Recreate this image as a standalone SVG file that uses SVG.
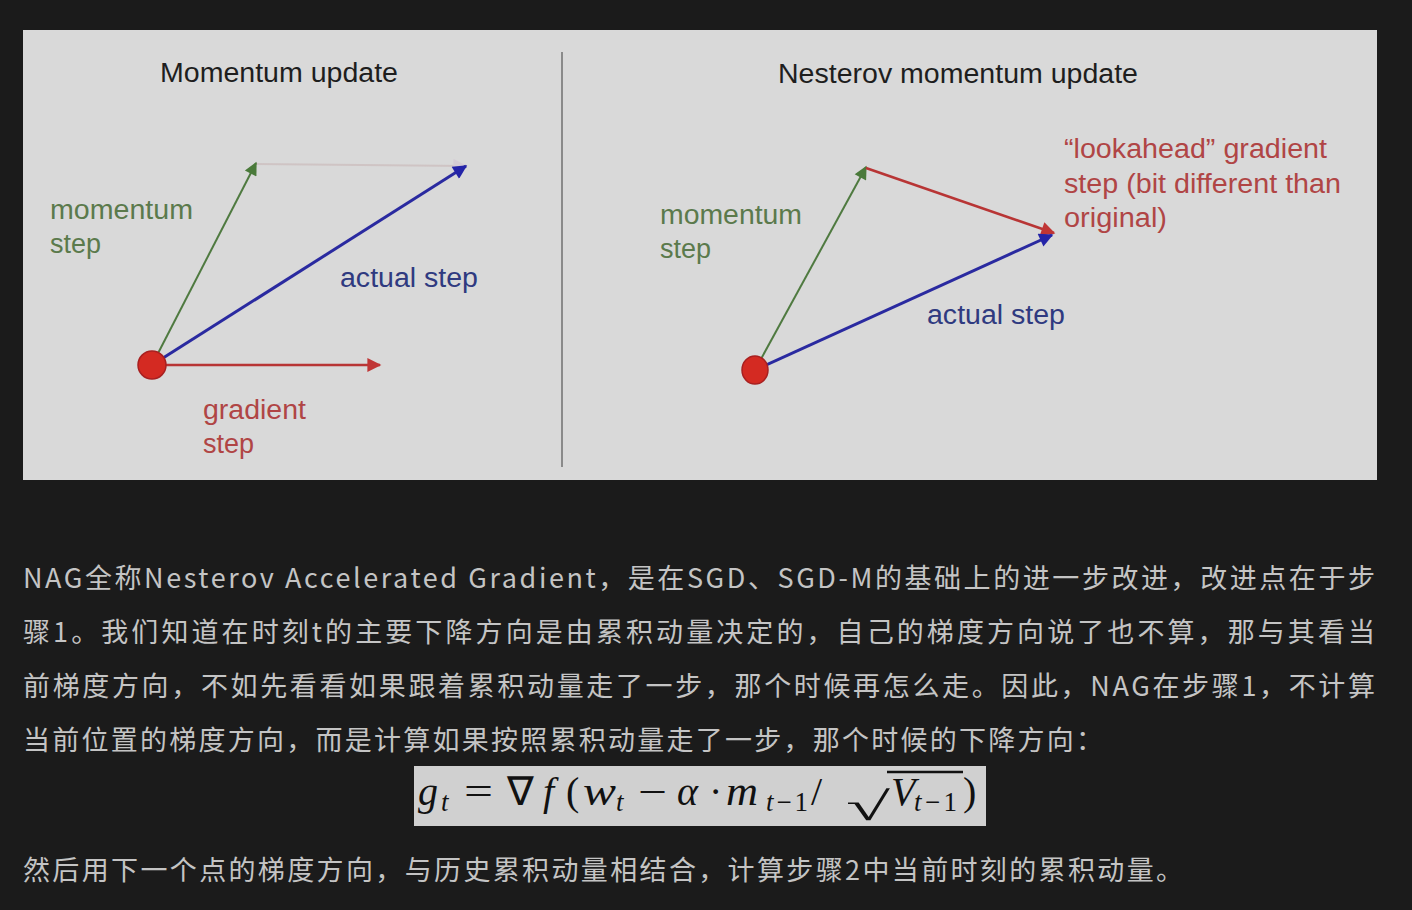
<svg xmlns="http://www.w3.org/2000/svg" width="1412" height="910" viewBox="0 0 1412 910">
<defs>
<style>
.lbl{font-family:"Liberation Sans",Arial,sans-serif;font-size:27px}
.ttl{font-family:"Liberation Sans",Arial,sans-serif;font-size:27px;fill:#1e1e1e}
.g{fill:#5b7a4c}.b{fill:#2f3a80}.r{fill:#b04545}
.zh{font-family:"Noto Sans CJK SC",sans-serif;font-size:27px;fill:#c4c4c4}
.m{font-family:"Liberation Serif","Times New Roman",serif;font-size:40px;fill:#111}
.mi{font-style:italic}
.ms{font-size:27px}
</style>
<marker id="ab" viewBox="0 0 10 10" refX="9" refY="5" markerWidth="20" markerHeight="14" markerUnits="userSpaceOnUse" orient="auto"><path d="M0,0 L10,5 L0,10 Z" fill="#2424a8"/></marker>
<marker id="ar" viewBox="0 0 10 10" refX="9" refY="5" markerWidth="20" markerHeight="14" markerUnits="userSpaceOnUse" orient="auto"><path d="M0,0 L10,5 L0,10 Z" fill="#c03535"/></marker>
<marker id="agr" viewBox="0 0 10 10" refX="9" refY="5" markerWidth="18" markerHeight="14" markerUnits="userSpaceOnUse" orient="auto"><path d="M0,0 L10,5 L0,10 Z" fill="#d4ccd4"/></marker>
<marker id="ag2" viewBox="0 0 10 10" refX="9" refY="5" markerWidth="18" markerHeight="13" markerUnits="userSpaceOnUse" orient="auto"><path d="M0,0 L10,5 L0,10 Z" fill="#4a7a3a"/></marker>
</defs>
<rect width="1412" height="910" fill="#1b1b1b"/>
<rect x="23" y="30" width="1354" height="450" fill="#d9d9d9"/>
<line x1="562" y1="52" x2="562" y2="467" stroke="#8a8a8a" stroke-width="2"/>

<g id="connectors" fill="none">
  <line x1="255" y1="164" x2="466" y2="166" stroke="#cfc4c4" stroke-width="2" marker-end="url(#agr)"/>
  <line x1="152" y1="365" x2="256" y2="163" stroke="#4f7a40" stroke-width="2" marker-end="url(#ag2)"/>
  <line x1="152" y1="365" x2="466" y2="166" stroke="#2a2aa0" stroke-width="3" marker-end="url(#ab)"/>
  <line x1="152" y1="365" x2="380" y2="365" stroke="#b83535" stroke-width="2.5" marker-end="url(#ar)"/>
  <line x1="755" y1="370" x2="866" y2="167" stroke="#4f7a40" stroke-width="2" marker-end="url(#ag2)"/>
  <line x1="866" y1="168" x2="1054" y2="233" stroke="#b83535" stroke-width="2.5" marker-end="url(#ar)"/>
  <line x1="755" y1="370" x2="1052" y2="235" stroke="#2a2aa0" stroke-width="3" marker-end="url(#ab)"/>
</g>

<g id="left-panel">
  <text class="ttl" x="279" y="82" text-anchor="middle" textLength="238" lengthAdjust="spacingAndGlyphs">Momentum update</text>
  <circle cx="152" cy="365" r="14" fill="#d42a22" stroke="#a82020" stroke-width="1.5"/>
  <text class="lbl g" x="50" y="219" textLength="143" lengthAdjust="spacingAndGlyphs">momentum</text>
  <text class="lbl g" x="50" y="253">step</text>
  <text class="lbl b" x="340" y="287" textLength="138" lengthAdjust="spacingAndGlyphs">actual step</text>
  <text class="lbl r" x="203" y="419" textLength="103" lengthAdjust="spacingAndGlyphs">gradient</text>
  <text class="lbl r" x="203" y="453">step</text>
</g>

<g id="right-panel">
  <text class="ttl" x="958" y="83" text-anchor="middle" textLength="360" lengthAdjust="spacingAndGlyphs">Nesterov momentum update</text>
  <ellipse cx="755" cy="370" rx="13" ry="14" fill="#d42a22" stroke="#a82020" stroke-width="1.5"/>
  <text class="lbl g" x="660" y="224" textLength="142" lengthAdjust="spacingAndGlyphs">momentum</text>
  <text class="lbl g" x="660" y="258">step</text>
  <text class="lbl r" x="1064" y="158" textLength="263" lengthAdjust="spacingAndGlyphs">“lookahead” gradient</text>
  <text class="lbl r" x="1064" y="193" textLength="277" lengthAdjust="spacingAndGlyphs">step (bit different than</text>
  <text class="lbl r" x="1064" y="227" textLength="103" lengthAdjust="spacingAndGlyphs">original)</text>
  <text class="lbl b" x="927" y="324" textLength="138" lengthAdjust="spacingAndGlyphs">actual step</text>
</g>

<g id="paragraph">
  <text class="zh" x="23" y="588" textLength="1352" lengthAdjust="spacing">NAG全称Nesterov  Accelerated Gradient，是在SGD、SGD-M的基础上的进一步改进，改进点在于步</text>
  <text class="zh" x="23" y="642" textLength="1352" lengthAdjust="spacing">骤1。我们知道在时刻t的主要下降方向是由累积动量决定的，自己的梯度方向说了也不算，那与其看当</text>
  <text class="zh" x="23" y="696" textLength="1352" lengthAdjust="spacing">前梯度方向，不如先看看如果跟着累积动量走了一步，那个时候再怎么走。因此，NAG在步骤1，不计算</text>
  <text class="zh" x="23" y="750" textLength="1080" lengthAdjust="spacing">当前位置的梯度方向，而是计算如果按照累积动量走了一步，那个时候的下降方向：</text>
  <text class="zh" x="23" y="880" textLength="1160" lengthAdjust="spacing">然后用下一个点的梯度方向，与历史累积动量相结合，计算步骤2中当前时刻的累积动量。</text>
</g>

<g id="formula">
  <rect x="414" y="766" width="572" height="60" fill="#d0d0d0"/>
  <text class="m mi" x="418" y="805">g</text>
  <text class="m mi ms" x="441" y="811">t</text>
  <text class="m" x="464" y="805" textLength="29" lengthAdjust="spacingAndGlyphs">=</text>
  <text class="m" x="507" y="805">∇</text>
  <text class="m mi" x="543" y="805">f</text>
  <text class="m" x="566" y="805">(</text>
  <text class="m mi" x="583" y="805" textLength="33" lengthAdjust="spacingAndGlyphs">w</text>
  <text class="m mi ms" x="616" y="811">t</text>
  <text class="m" x="638" y="805" textLength="29" lengthAdjust="spacingAndGlyphs">−</text>
  <text class="m mi" x="677" y="805">α</text>
  <text class="m" x="709" y="805">·</text>
  <text class="m mi" x="726" y="805" textLength="32" lengthAdjust="spacingAndGlyphs">m</text>
  <text class="m ms" x="766" y="811" textLength="42" lengthAdjust="spacing"><tspan font-style="italic">t</tspan>−1</text>
  <text class="m" x="811" y="805">/</text>
  <text class="m" x="846" y="820" font-size="64" textLength="44" lengthAdjust="spacingAndGlyphs">√</text>
  <line x1="887" y1="772" x2="963" y2="772" stroke="#111" stroke-width="2.5"/>
  <text class="m mi" x="891" y="805">V</text>
  <text class="m ms" x="914" y="811" textLength="43" lengthAdjust="spacing"><tspan font-style="italic">t</tspan>−1</text>
  <text class="m" x="963" y="805">)</text>
</g>
</svg>
